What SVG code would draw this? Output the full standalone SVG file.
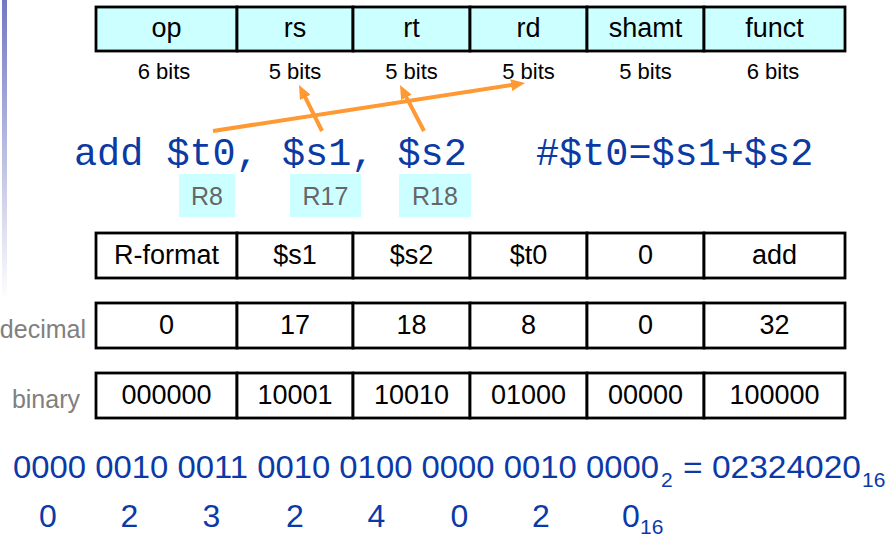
<svg xmlns="http://www.w3.org/2000/svg" width="886" height="537" viewBox="0 0 886 537">
<defs>
<linearGradient id="bar" x1="0" y1="0" x2="0" y2="1">
<stop offset="0" stop-color="#7478c2"/>
<stop offset="1" stop-color="#ffffff"/>
</linearGradient>
<marker id="ah" markerUnits="userSpaceOnUse" markerWidth="14" markerHeight="12" refX="4" refY="6" orient="auto">
<path d="M0,0 L14,6 L0,12 z" fill="#ff9933"/>
</marker>
<style>
.cell{fill:#ffffff;stroke:#000;stroke-width:2.8}
.hcell{fill:#ccffff;stroke:#000;stroke-width:2.8}
.t{font-family:"Liberation Sans",Arial,sans-serif;font-size:27px;fill:#000;text-anchor:middle}
.bits{font-family:"Liberation Sans",Arial,sans-serif;font-size:22px;fill:#000;text-anchor:middle}
.side{font-family:"Liberation Sans",Arial,sans-serif;font-size:25px;fill:#808080;text-anchor:end}
.mono{font-family:"Liberation Mono","DejaVu Sans Mono",monospace;font-size:38.5px;fill:#0b3aa3}
.reg{fill:#ccffff}
.regt{font-family:"Liberation Sans",Arial,sans-serif;font-size:25px;fill:#666666;text-anchor:middle}
.bin{font-family:"Liberation Sans",Arial,sans-serif;font-size:32px;fill:#0b3aa8}
.binc{font-family:"Liberation Sans",Arial,sans-serif;font-size:32px;fill:#0b3aa8;text-anchor:middle}
.sub{font-family:"Liberation Sans",Arial,sans-serif;font-size:21px;fill:#0b3aa8}
.arr{stroke:#ff9933;stroke-width:4;fill:none;marker-end:url(#ah)}
</style>
</defs>
<rect width="886" height="537" fill="#ffffff"/>
<rect x="2" y="0" width="5" height="300" fill="url(#bar)"/>

<g id="format-header">
<rect class="hcell" x="96" y="7" width="141" height="44"/>
<rect class="hcell" x="237" y="7" width="116" height="44"/>
<rect class="hcell" x="353" y="7" width="117" height="44"/>
<rect class="hcell" x="470" y="7" width="117" height="44"/>
<rect class="hcell" x="587" y="7" width="117" height="44"/>
<rect class="hcell" x="704" y="7" width="141" height="44"/>
<text class="t" x="166.5" y="37">op</text>
<text class="t" x="295" y="37">rs</text>
<text class="t" x="411.5" y="37">rt</text>
<text class="t" x="528.5" y="37">rd</text>
<text class="t" x="645.5" y="37">shamt</text>
<text class="t" x="774.5" y="37">funct</text>
</g>

<g id="bit-widths">
<text class="bits" x="164" y="79">6 bits</text>
<text class="bits" x="295" y="79">5 bits</text>
<text class="bits" x="411.5" y="79">5 bits</text>
<text class="bits" x="528.5" y="79">5 bits</text>
<text class="bits" x="645.5" y="79">5 bits</text>
<text class="bits" x="773" y="79">6 bits</text>
</g>

<g id="instruction">
<text class="mono" x="74" y="165">add $t0, $s1, $s2</text>
<text class="mono" x="536" y="165">#$t0=$s1+$s2</text>
</g>

<g id="reg-r8">
<rect class="reg" x="179" y="174" width="56" height="43"/>
<text class="regt" x="207" y="205">R8</text>
</g>
<g id="reg-r17">
<rect class="reg" x="290" y="174" width="71" height="43"/>
<text class="regt" x="325.5" y="205">R17</text>
</g>
<g id="reg-r18">
<rect class="reg" x="399" y="174" width="72" height="43"/>
<text class="regt" x="435" y="205">R18</text>
</g>

<g id="connectors">
<line class="arr" x1="213" y1="131" x2="515.1" y2="84.5"/>
<line class="arr" x1="322" y1="131" x2="303.5" y2="93.9"/>
<line class="arr" x1="424" y1="131" x2="404.6" y2="93.9"/>
</g>

<g id="row-symbolic">
<rect class="cell" x="96" y="233" width="141" height="45"/>
<rect class="cell" x="237" y="233" width="116" height="45"/>
<rect class="cell" x="353" y="233" width="117" height="45"/>
<rect class="cell" x="470" y="233" width="117" height="45"/>
<rect class="cell" x="587" y="233" width="117" height="45"/>
<rect class="cell" x="704" y="233" width="141" height="45"/>
<text class="t" x="166.5" y="264">R-format</text>
<text class="t" x="295" y="264">$s1</text>
<text class="t" x="411.5" y="264">$s2</text>
<text class="t" x="528.5" y="264">$t0</text>
<text class="t" x="645.5" y="264">0</text>
<text class="t" x="774.5" y="264">add</text>
</g>

<g id="row-decimal">
<text class="side" x="86" y="338">decimal</text>
<rect class="cell" x="96" y="303" width="141" height="45"/>
<rect class="cell" x="237" y="303" width="116" height="45"/>
<rect class="cell" x="353" y="303" width="117" height="45"/>
<rect class="cell" x="470" y="303" width="117" height="45"/>
<rect class="cell" x="587" y="303" width="117" height="45"/>
<rect class="cell" x="704" y="303" width="141" height="45"/>
<text class="t" x="166.5" y="334">0</text>
<text class="t" x="295" y="334">17</text>
<text class="t" x="411.5" y="334">18</text>
<text class="t" x="528.5" y="334">8</text>
<text class="t" x="645.5" y="334">0</text>
<text class="t" x="774.5" y="334">32</text>
</g>

<g id="row-binary">
<text class="side" x="80" y="408">binary</text>
<rect class="cell" x="96" y="373" width="141" height="45"/>
<rect class="cell" x="237" y="373" width="116" height="45"/>
<rect class="cell" x="353" y="373" width="117" height="45"/>
<rect class="cell" x="470" y="373" width="117" height="45"/>
<rect class="cell" x="587" y="373" width="117" height="45"/>
<rect class="cell" x="704" y="373" width="141" height="45"/>
<text class="t" x="166.5" y="404">000000</text>
<text class="t" x="295" y="404">10001</text>
<text class="t" x="411.5" y="404">10010</text>
<text class="t" x="528.5" y="404">01000</text>
<text class="t" x="645.5" y="404">00000</text>
<text class="t" x="774.5" y="404">100000</text>
</g>

<g id="hex-result">
<text class="bin" x="13" y="478" textLength="646" lengthAdjust="spacingAndGlyphs">0000 0010 0011 0010 0100 0000 0010 0000</text>
<text class="sub" x="661" y="487">2</text>
<text class="bin" x="683" y="478" textLength="178" lengthAdjust="spacingAndGlyphs">= 02324020</text>
<text class="sub" x="862" y="487">16</text>
<text class="binc" x="48" y="527">0</text>
<text class="binc" x="129.5" y="527">2</text>
<text class="binc" x="211.5" y="527">3</text>
<text class="binc" x="295" y="527">2</text>
<text class="binc" x="376.5" y="527">4</text>
<text class="binc" x="459.5" y="527">0</text>
<text class="binc" x="541" y="527">2</text>
<text class="binc" x="631" y="527">0</text>
<text class="sub" x="640" y="534">16</text>
</g>
</svg>
